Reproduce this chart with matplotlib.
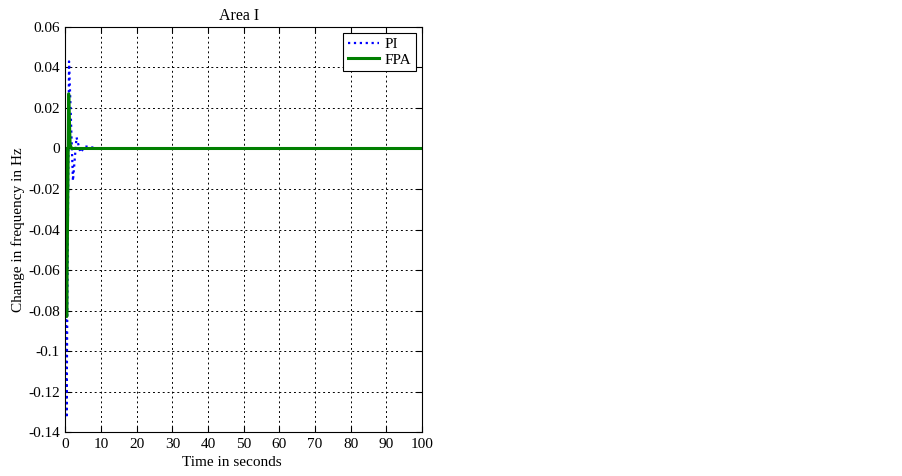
import matplotlib
matplotlib.use("Agg")
import matplotlib.pyplot as plt

# time (s) and frequency deviation (Hz)
t_pi = [0, 0.3, 1.0, 2.1, 3.1, 4.2, 5.5, 7.0, 8.5, 10, 100]
df_pi = [0, -0.133, 0.043, -0.016, 0.0055, -0.002, 0.001, 0.0008, 0, 0, 0]

t_fpa = [0, 0.05, 0.1, 0.35, 0.9, 1.3, 1.7, 2.0, 100]
df_fpa = [0, -0.026, -0.02, -0.083, 0.027, 0.002, 0, 0, 0]

xticks = list(range(0, 101, 10))
yticks = [0.06, 0.04, 0.02, 0, -0.02, -0.04, -0.06, -0.08, -0.1, -0.12, -0.14]
ylabels = ["0.06", "0.04", "0.02", "0", "-0.02", "-0.04", "-0.06", "-0.08", "-0.1", "-0.12", "-0.14"]

plt.rcParams["font.family"] = ["Liberation Serif", "DejaVu Serif"]
plt.rcParams["font.size"] = 11

fig = plt.figure(figsize=(9.03, 4.76), dpi=100)
ax = fig.add_axes([0.0725, 0.0924, 0.3948, 0.8509])

ax.plot(t_pi, df_pi, color="#0000ff", linestyle=":", linewidth=1.6, label="PI")
ax.plot(t_fpa, df_fpa, color="#007f00", linewidth=2.2, label="FPA")

ax.set_xlim(0, 100)
ax.set_ylim(-0.14, 0.06)
ax.set_xticks(xticks)
ax.set_yticks(yticks)
ax.set_yticklabels(ylabels)
ax.tick_params(direction="in", top=True, right=True, length=4, pad=4)
ax.grid(True, color="black", linestyle=(0, (2, 3)), linewidth=0.7)

ax.set_title("Area I", fontsize=11.5, pad=5, x=0.487)
ax.set_xlabel("Time in seconds", labelpad=4)
ax.xaxis.label.set_x(0.468)
ax.set_ylabel("Change in frequency in Hz", labelpad=2)

leg = ax.legend(loc="upper right", fancybox=False, edgecolor="black",
                framealpha=1, borderaxespad=0.4, handlelength=2.0,
                handletextpad=0.4, borderpad=0.3, labelspacing=0.1)
leg.get_frame().set_linewidth(0.8)

fig.savefig("out.png", dpi=100)
plt.close(fig)
